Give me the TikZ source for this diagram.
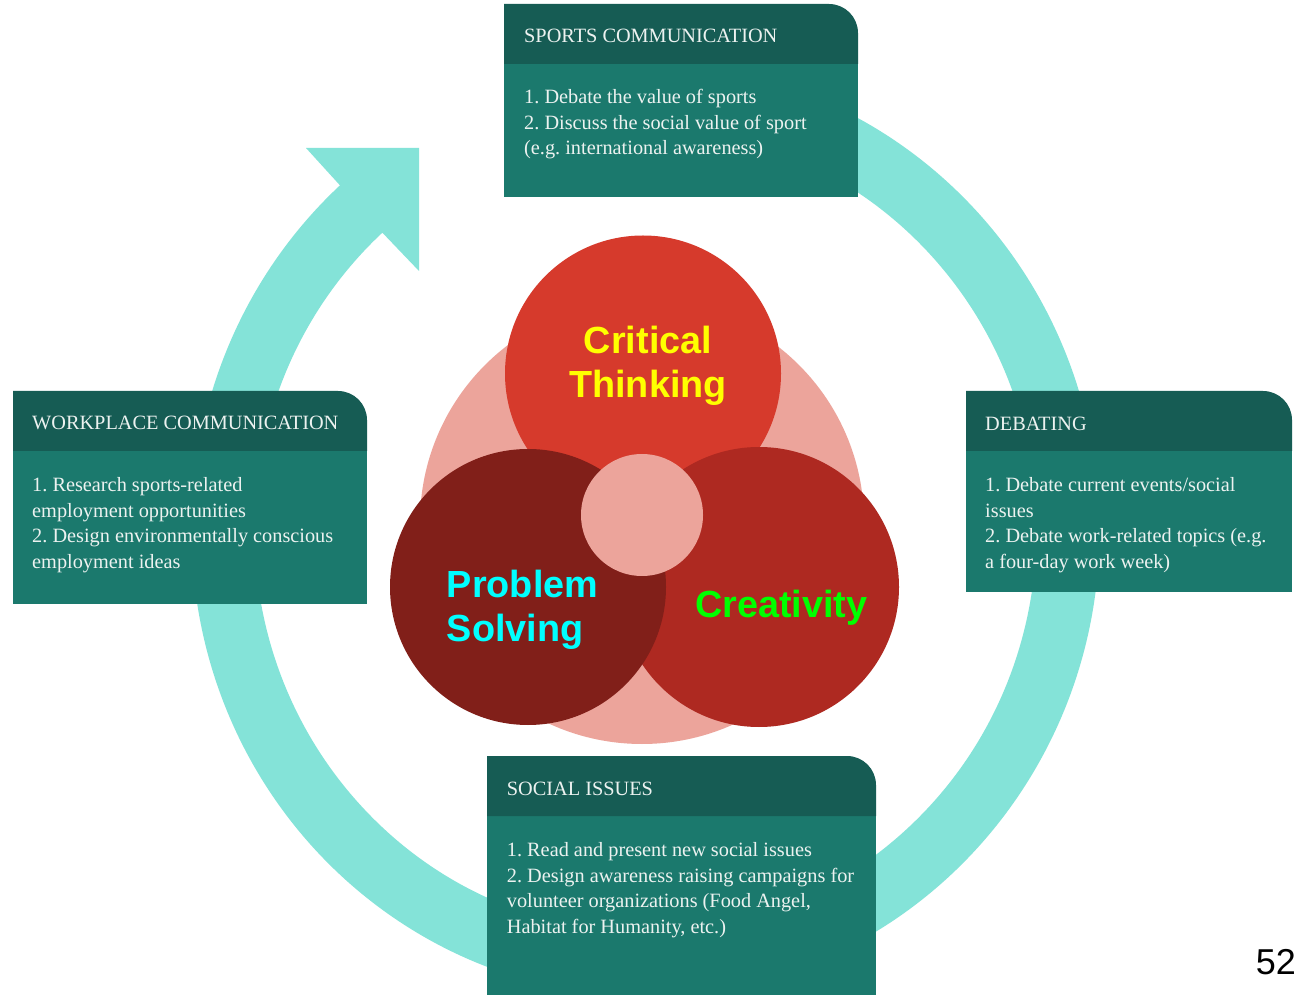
\documentclass[tikz,border=0pt]{standalone}
\usepackage{fontspec}
\setmainfont{Liberation Serif}
\newfontfamily\hvsans{Liberation Sans}
\usetikzlibrary{calc}

\definecolor{ringteal}{RGB}{132,227,216}
\definecolor{cardhead}{RGB}{22,92,84}
\definecolor{cardbody}{RGB}{27,121,109}
\definecolor{cardtext}{RGB}{236,242,240}
\definecolor{blush}{RGB}{236,164,155}
\definecolor{critred}{RGB}{214,58,44}
\definecolor{probred}{RGB}{129,31,25}
\definecolor{creared}{RGB}{174,41,33}
\definecolor{labyellow}{RGB}{255,255,0}
\definecolor{labcyan}{RGB}{0,255,255}
\definecolor{labgreen}{RGB}{0,255,0}

\tikzset{
  cardtitle/.style={anchor=base west, inner sep=0pt, text=cardtext,
    font=\fontsize{20.3}{25.5}\selectfont},
  cardlines/.style={anchor=base west, inner sep=0pt, text=cardtext,
    font=\fontsize{20.3}{25.5}\selectfont},
  skilltext/.style={inner sep=0pt, font=\hvsans\bfseries\fontsize{37.8}{44}\selectfont},
}

% card with dark title band and rounded top-right corner
% #1 left, #2 right, #3 top, #4 bottom
\newcommand\skillcard[4]{%
  \fill[cardbody] (#1,#4) rectangle (#2,#3-60);
  \fill[cardhead] (#1,#3-60) -- (#1,#3) -- (#2-29,#3)
    arc[start angle=90,end angle=0,radius=29] -- (#2,#3-60) -- cycle;
}

\begin{document}
\frenchspacing
\begin{tikzpicture}[x=1pt,y=1pt]
\useasboundingbox (0,0) rectangle (1298,994);
\fill[white] (0,0) rectangle (1298,994);

% circular arrow
\coordinate (hub) at (645.5,464);
\fill[ringteal]
  ($(hub)+(95:454 and 466)$)
  arc[start angle=95,end angle=-227.7,x radius=454,y radius=466]
  -- (306,846) -- (419,846) -- (419,723)
  -- ($(hub)+(-227.7:391 and 402)$)
  arc[start angle=-227.7,end angle=95,x radius=391,y radius=402]
  -- cycle;

% cards
\skillcard{504}{858}{990}{797}
\skillcard{13}{367}{603}{390}
\skillcard{966}{1292}{603}{402}
\skillcard{487}{876}{238}{-2}

\node[cardtitle] (sportsT) at (524,951) {SPORTS COMMUNICATION};
\node[cardlines] (sportsB) at (524,890) {\begin{tabular}[t]{@{}l@{}}
1. Debate the value of sports\\
2. Discuss the social value of sport\\
(e.g. international awareness)\end{tabular}};

\node[cardtitle] (workT) at (32,564) {WORKPLACE COMMUNICATION};
\node[cardlines] (workB) at (32,502.3) {\begin{tabular}[t]{@{}l@{}}
1. Research sports-related\\
employment opportunities\\
2. Design environmentally conscious\\
employment ideas\end{tabular}};

\node[cardtitle] (debT) at (985,563.5) {DEBATING};
\node[cardlines] (debB) at (985,502) {\begin{tabular}[t]{@{}l@{}}
1. Debate current events/social\\
issues\\
2. Debate work-related topics (e.g.\\
a four-day work week)\end{tabular}};

\node[cardtitle] (socT) at (506.7,199) {SOCIAL ISSUES};
\node[cardlines] (socB) at (506.7,137.3) {\begin{tabular}[t]{@{}l@{}}
1. Read and present new social issues\\
2. Design awareness raising campaigns for\\
volunteer organizations (Food Angel,\\
Habitat for Humanity, etc.)\end{tabular}};

% overlapping skill circles
\fill[blush] (642,472) circle[radius=222];
\fill[critred] (643,620.5) circle[radius=138];
\fill[creared] (759,407) circle[radius=140];
\fill[probred] (528,407) circle[radius=138];
\fill[blush] (642,479) circle[radius=61];

\node[skilltext, text=labyellow, anchor=base] (crit) at (648,640.7)
  {\begin{tabular}[t]{@{}c@{}}Critical\\Thinking\end{tabular}};
\node[skilltext, text=labcyan, anchor=base west] (prob) at (446.7,396.3)
  {\begin{tabular}[t]{@{}l@{}}Problem\\Solving\end{tabular}};
\node[skilltext, text=labgreen, anchor=base west] (crea) at (695,376.3) {Creativity};

% page number
\node[inner sep=0pt, anchor=base east, font=\hvsans\fontsize{36}{40}\selectfont] (pageno) at (1296,20) {52};
\end{tikzpicture}
\end{document}
